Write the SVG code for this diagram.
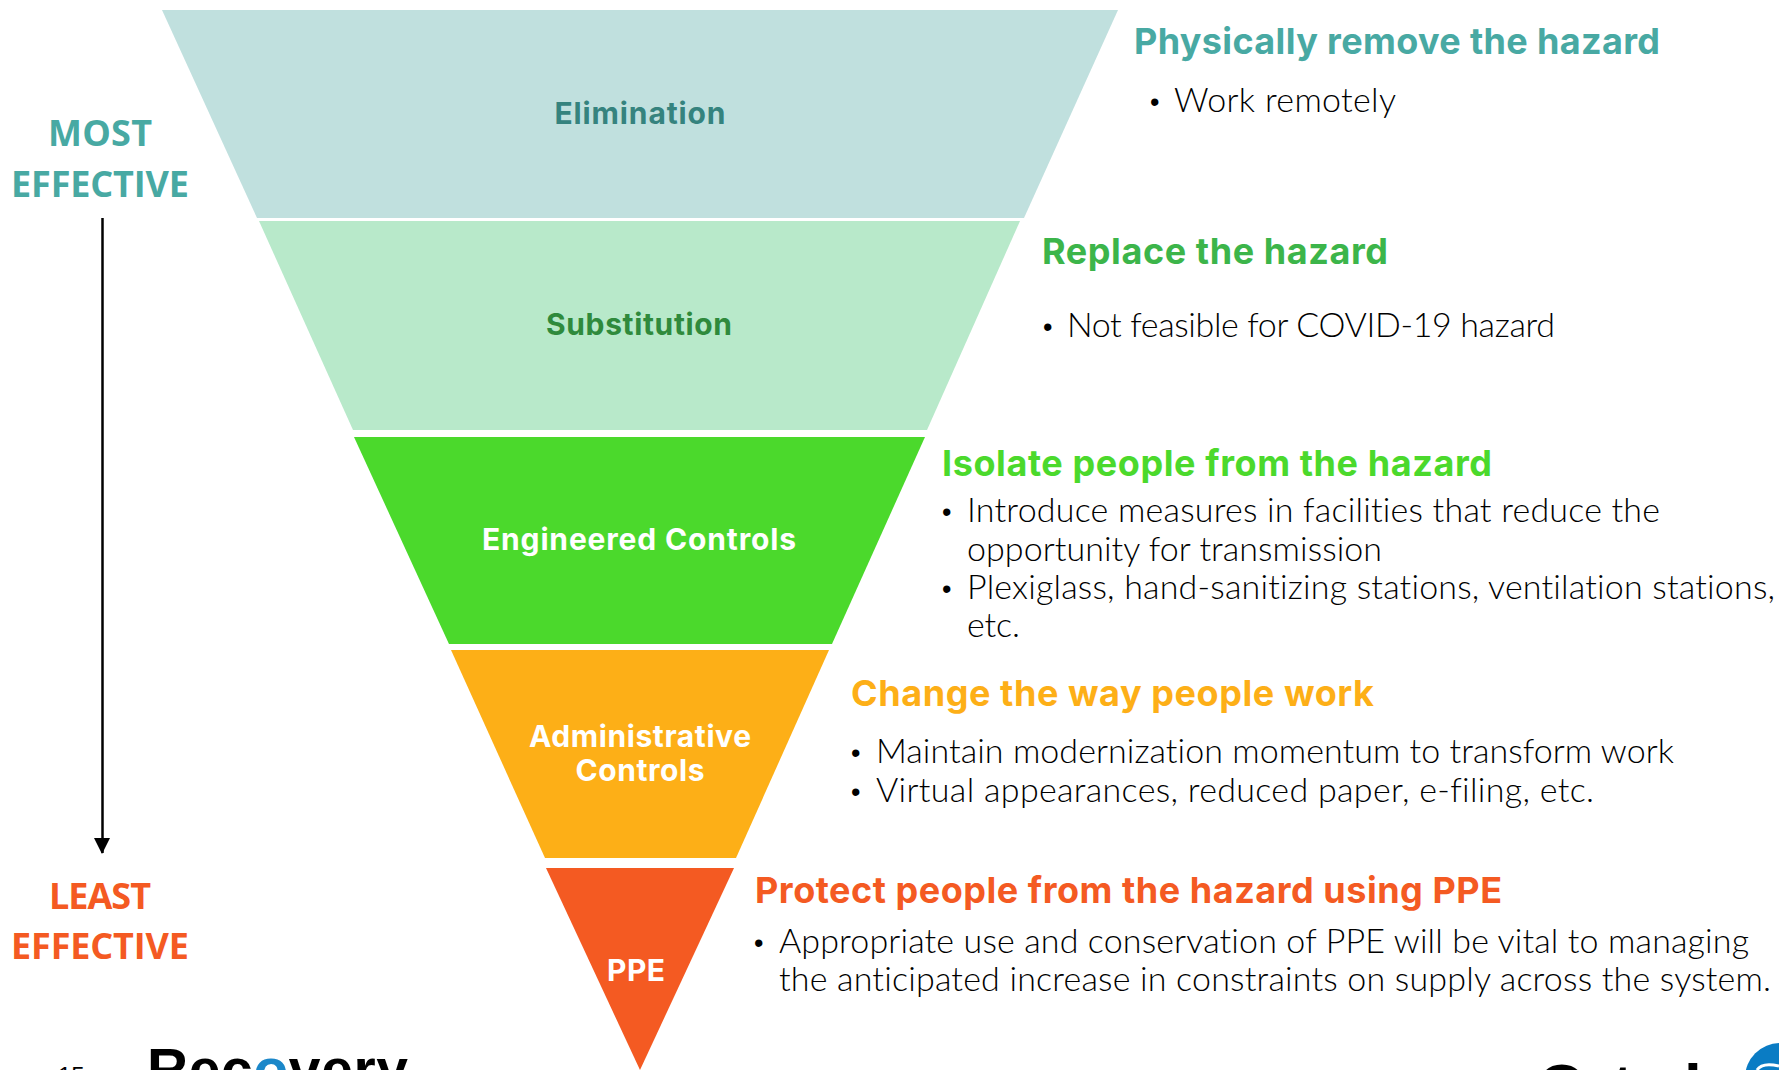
<svg xmlns="http://www.w3.org/2000/svg" width="1779" height="1070" viewBox="0 0 1779 1070">
<defs><marker id="ah" markerUnits="userSpaceOnUse" markerWidth="16" markerHeight="16" refX="15" refY="7.5" orient="auto"><path d="M0 0L16 8L0 16Z" fill="#000"/></marker></defs>
<style>
text{font-family:"Noto Sans","Liberation Sans",sans-serif}
.n{font-family:Inter,"Noto Sans",sans-serif;font-weight:700;font-size:30px;text-anchor:middle}
.h{font-family:Inter,"Noto Sans",sans-serif;font-weight:700;font-size:36px}
.b{font-family:"Lato","Noto Sans",sans-serif;font-weight:300;font-size:34px;fill:#000;font-variant-ligatures:none}
.d{font-family:"Liberation Sans",sans-serif;font-size:27px;fill:#000}
.e{font-family:"Open Sans","Noto Sans",sans-serif;font-weight:700;font-size:36px;text-anchor:middle}
.f{font-family:"Liberation Sans",sans-serif;font-weight:700;fill:#000}
</style>
<rect width="1779" height="1070" fill="#fff"/>
<g id="elimination"><polygon points="162,10 1118,10 1024,218 257,218" fill="#c0e0de"/><text class="n" x="640" y="124" fill="#35837e" textLength="171">Elimination</text></g>
<g id="substitution"><polygon points="259,221 1020,221 927,430 353,430" fill="#b8e9ca"/><text class="n" x="639" y="335" fill="#2f8a3c" textLength="186">Substitution</text></g>
<g id="engineered"><polygon points="354,437 925,437 832,644 449,644" fill="#4bd92c"/><text class="n" x="639" y="550" fill="#fff" textLength="314">Engineered Controls</text></g>
<g id="administrative"><polygon points="451,650 829,650 736,858 545,858" fill="#fdaf17"/><text class="n" x="640" y="747" fill="#fff" textLength="222">Administrative</text><text class="n" x="640" y="781" fill="#fff" textLength="129">Controls</text></g>
<g id="ppe"><polygon points="546,868 734,868 640,1070" fill="#f45a22"/><text class="n" x="636" y="981" fill="#fff" textLength="58">PPE</text></g>
<g id="most"><text class="e" x="100" y="146" fill="#48a9a3" textLength="104">MOST</text><text class="e" x="100" y="197" fill="#48a9a3" textLength="178">EFFECTIVE</text></g>
<g id="least"><text class="e" x="100" y="909" fill="#f45a22" textLength="102">LEAST</text><text class="e" x="100" y="959" fill="#f45a22" textLength="178">EFFECTIVE</text></g>
<g id="connectors"><line x1="102.5" y1="218" x2="102.5" y2="853" stroke="#000" stroke-width="2.5" marker-end="url(#ah)"/></g>
<g id="desc1"><text class="h" x="1134" y="54" fill="#48a9a3" textLength="526">Physically remove the hazard</text><text class="d" x="1150" y="111">•</text><text class="b" x="1174" y="112" textLength="222">Work remotely</text></g>
<g id="desc2"><text class="h" x="1042" y="264" fill="#3cb54a" textLength="346">Replace the hazard</text><text class="d" x="1043" y="336">•</text><text class="b" x="1067" y="337" textLength="488">Not feasible for COVID-19 hazard</text></g>
<g id="desc3"><text class="h" x="942" y="476" fill="#4bd92c" textLength="550">Isolate people from the hazard</text><text class="d" x="942" y="521">•</text><text class="b" x="967" y="522" textLength="693">Introduce measures in facilities that reduce the</text><text class="b" x="967" y="561" textLength="415">opportunity for transmission</text><text class="d" x="942" y="598">•</text><text class="b" x="967" y="599" textLength="808">Plexiglass, hand-sanitizing stations, ventilation stations,</text><text class="b" x="967" y="637" textLength="53">etc.</text></g>
<g id="desc4"><text class="h" x="851" y="706" fill="#fdaf17" textLength="523">Change the way people work</text><text class="d" x="851" y="762">•</text><text class="b" x="876" y="763" textLength="798">Maintain modernization momentum to transform work</text><text class="d" x="851" y="801">•</text><text class="b" x="876" y="802" textLength="718">Virtual appearances, reduced paper, e-filing, etc.</text></g>
<g id="desc5"><text class="h" x="755" y="903" fill="#f45a22" textLength="747">Protect people from the hazard using PPE</text><text class="d" x="754" y="952">•</text><text class="b" x="779" y="953" textLength="970">Appropriate use and conservation of PPE will be vital to managing</text><text class="b" x="779" y="991" textLength="992">the anticipated increase in constraints on supply across the system.</text></g>
<g id="footer"><text x="58" y="1084" font-size="24" style="font-family:'Liberation Sans'" fill="#000">15</text><text class="f" x="147" y="1089" font-size="57" textLength="261">Rec<tspan fill="#1b87c9">o</tspan>very</text><text class="f" x="1537 1612 1684" y="1110" font-size="64">Otl</text><circle cx="1780" cy="1078" r="35" fill="#0a7cc4"/><path d="M1757 1070Q1762 1062 1779 1066" fill="none" stroke="#fff" stroke-width="3"/></g>
</svg>
